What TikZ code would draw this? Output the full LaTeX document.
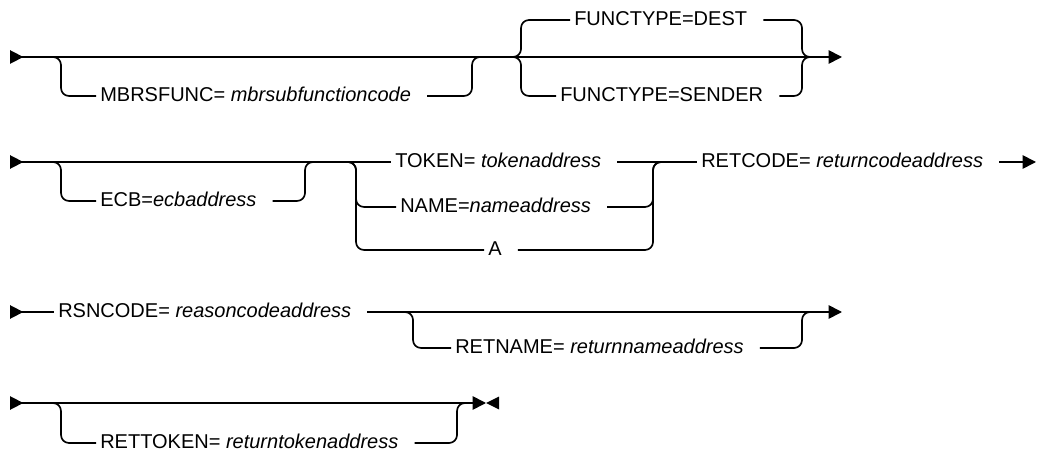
\documentclass[tikz,border=0pt]{standalone}
\usepackage{fontspec}
\setmainfont{Liberation Sans}
\usetikzlibrary{arrows.meta}

\begin{document}
\begin{tikzpicture}[
  x=0.75pt, y=-0.75pt,
  every node/.style={font=\fontsize{15}{18}\selectfont},
  term/.style={inner xsep=3pt, inner ysep=0pt, text height=10pt, text depth=2pt,
               anchor=west, execute at end node={\hspace{9pt}}},
  rail/.style={line width=1.25pt, rounded corners=6pt},
  railbeg/.style={rail, {Triangle[reversed, length=10pt, width=10pt]}-},
  railend/.style={rail, -{Triangle[length=10pt, width=10pt]}},
  railboth/.style={rail, {Triangle[reversed, length=10pt, width=10pt]}-{Triangle[length=10pt, width=10pt]}}
]
\useasboundingbox (0,0) rectangle (1038,452);

%% row 1
\coordinate (s1) at (10,57);
\coordinate (e1) at (842,57);
\node[term] (mbrs)   at (96,96)  {MBRSFUNC= \textit{mbrsubfunctioncode}};
\node[term] (dest)   at (570,20) {FUNCTYPE=DEST};
\node[term] (sender) at (556,96) {FUNCTYPE=SENDER};
\draw[railboth] (s1) -- (e1);

\coordinate (o1)  at (50,57);
\coordinate (o1d) at (61,96);
\coordinate (o1u) at (472,96);
\coordinate (o1r) at (482,57);
\draw[rail] (o1) -| (o1d) -- (mbrs.west);
\draw[rail] (mbrs.east) -- (o1u) |- (o1r);

\coordinate (f1)  at (511,57);
\coordinate (f1u) at (521,20);
\coordinate (f1d) at (521,96);
\coordinate (f2u) at (802,20);
\coordinate (f2d) at (802,96);
\coordinate (f2)  at (812,57);
\draw[rail] (f1) -| (f1u) -- (dest.west);
\draw[rail] (f1) -| (f1d) -- (sender.west);
\draw[rail] (dest.east) -- (f2u) |- (f2);
\draw[rail] (sender.east) -- (f2d) |- (f2);

%% row 2
\coordinate (s2) at (10,162);
\coordinate (e2) at (1036,162);
\node[term] (ecb)     at (96,201)  {ECB=\textit{ecbaddress}};
\node[term] (token)   at (391,162) {TOKEN= \textit{tokenaddress}};
\node[term] (name)    at (396,207) {NAME=\textit{nameaddress}};
\node[term] (alt)     at (484,250) {A};
\node[term] (retcode) at (697,162) {RETCODE= \textit{returncodeaddress}};
\draw[railbeg] (s2) -- (token.west);
\draw[rail] (token.east) -- (retcode.west);
\draw[railend] (retcode.east) -- (e2);

\coordinate (o2)  at (50,162);
\coordinate (o2d) at (61,201);
\coordinate (o2u) at (305,201);
\coordinate (o2r) at (315,162);
\draw[rail] (o2) -| (o2d) -- (ecb.west);
\draw[rail] (ecb.east) -- (o2u) |- (o2r);

\coordinate (c1)  at (345,162);
\coordinate (c1n) at (356,207);
\coordinate (c1a) at (356,250);
\coordinate (c2n) at (653,207);
\coordinate (c2a) at (653,250);
\coordinate (c2)  at (663,162);
\draw[rail] (c1) -| (c1n) -- (name.west);
\draw[rail] (c1) -| (c1a) -- (alt.west);
\draw[rail] (name.east) -- (c2n) |- (c2);
\draw[rail] (alt.east) -- (c2a) |- (c2);

%% row 3
\coordinate (s3) at (10,312);
\coordinate (e3) at (842,312);
\node[term] (rsn)     at (54,312)  {RSNCODE= \textit{reasoncodeaddress}};
\node[term] (retname) at (451,348) {RETNAME= \textit{returnnameaddress}};
\draw[railbeg] (s3) -- (rsn.west);
\draw[railend] (rsn.east) -- (e3);

\coordinate (o3)  at (402,312);
\coordinate (o3d) at (413,348);
\coordinate (o3u) at (802,348);
\coordinate (o3r) at (812,312);
\draw[rail] (o3) -| (o3d) -- (retname.west);
\draw[rail] (retname.east) -- (o3u) |- (o3r);

%% row 4
\coordinate (s4) at (10,403);
\coordinate (e4) at (486,403);
\node[term] (rettoken) at (96,443) {RETTOKEN= \textit{returntokenaddress}};
\draw[railboth] (s4) -- (e4);
\fill (499,396.5) -- (499,409.5) -- (e4) -- cycle;

\coordinate (o4)  at (50,403);
\coordinate (o4d) at (61,443);
\coordinate (o4u) at (457,443);
\coordinate (o4r) at (467,403);
\draw[rail] (o4) -| (o4d) -- (rettoken.west);
\draw[rail] (rettoken.east) -- (o4u) |- (o4r);
\end{tikzpicture}
\end{document}
